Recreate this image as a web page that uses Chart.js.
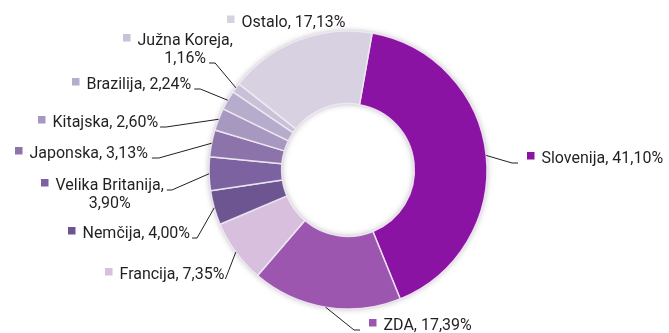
<!DOCTYPE html>
<html>
<head>
<meta charset="utf-8">
<script src="https://cdn.jsdelivr.net/npm/chart.js@4/dist/chart.umd.min.js"></script>
<style>
  html, body { margin: 0; padding: 0; background: #ffffff; }
  #wrap { width: 669px; height: 333px; position: relative; }
</style>
</head>
<body>
<div id="wrap"><canvas id="c" width="669" height="333"></canvas></div>
<script>
// Deleži po državah (v %)
const countries = ['Slovenija', 'ZDA', 'Francija', 'Nemčija', 'Velika Britanija',
                   'Japonska', 'Kitajska', 'Brazilija', 'Južna Koreja', 'Ostalo'];
const shares = [41.10, 17.39, 7.35, 4.00, 3.90, 3.13, 2.60, 2.24, 1.16, 17.13];
// labels that break onto a second line after the comma
const wrapAfterName = [false, false, false, false, true, false, false, false, true, false];

const sliceColors = ['#8a13a3', '#9c56b0', '#d7bfdd', '#6d5592', '#7c62a0',
                     '#8c74ab', '#a698bf', '#b6accb', '#c9c1d7', '#d8d1e1'];

// callout placement: offset of the marker square / first baseline from the ring centre,
// which text line the leader attaches to, and leader gaps
const calloutLayout = [
  { dx: 179,  dy: -7,     side: 'right', line: 0, gap: 9, knee: 6 },
  { dx: 21,   dy: 160,    side: 'right', line: 0, gap: 9, knee: 6 },
  { dx: -243, dy: 109,    side: 'left',  line: 0, gap: 1, knee: 0 },
  { dx: -280, dy: 68,     side: 'left',  line: 0, gap: 2, knee: 5 },
  { dx: -307, dy: 20,     side: 'left',  line: 0, gap: 3, knee: 5 },
  { dx: -333, dy: -12,    side: 'left',  line: 0, gap: 4, knee: 7 },
  { dx: -310, dy: -43,    side: 'left',  line: 0, gap: 2, knee: 6 },
  { dx: -276, dy: -81,    side: 'left',  line: 0, gap: 3, knee: 6 },
  { dx: -225, dy: -125,   side: 'left',  line: 1, gap: 3, knee: 6 },
  { dx: -121, dy: -143.5, side: 'none',  line: 0, gap: 0, knee: 0 }
];

const fmt = v => v.toFixed(2).replace('.', ',') + '%';
function labelText(i) {
  const name = countries[i], val = fmt(shares[i]);
  return wrapAfterName[i] ? [name + ',', val] : [name + ', ' + val];
}

const FONT = '17px Roboto';
const SQUEEZE = 0.94;          // slightly condensed lettering
const TEXT_COLOR = '#231f20';
const LINE_H = 18;

// soft shadow under the ring
const ringShadow = {
  id: 'ringShadow',
  beforeDatasetsDraw(chart) {
    const arc = chart.getDatasetMeta(0).data[0];
    if (!arc) return;
    const { x, y, outerRadius, innerRadius } = arc.getProps(['x', 'y', 'outerRadius', 'innerRadius'], true);
    const c = chart.ctx;
    c.save();
    c.shadowColor = 'rgba(50, 30, 60, 0.5)';
    c.shadowBlur = 6;
    c.fillStyle = '#d0c8d8';
    c.beginPath();
    c.arc(x, y, outerRadius - 1, 0, Math.PI * 2);
    c.arc(x, y, innerRadius + 1, 0, Math.PI * 2, true);
    c.fill();
    c.restore();
  }
};

function drawCondensed(c, text, x, y) {
  c.save();
  c.translate(x, y);
  c.scale(SQUEEZE, 1);
  c.fillText(text, 0, 0);
  c.restore();
}

// category labels with colour markers and leader lines
const callouts = {
  id: 'callouts',
  afterDatasetsDraw(chart) {
    const c = chart.ctx;
    const arcs = chart.getDatasetMeta(0).data;
    c.save();
    c.font = FONT;
    c.textBaseline = 'alphabetic';
    c.textAlign = 'left';
    arcs.forEach((arc, i) => {
      const p = arc.getProps(['x', 'y', 'startAngle', 'endAngle', 'outerRadius'], true);
      const L = calloutLayout[i];
      const lines = labelText(i);
      const sqX = p.x + L.dx, base = p.y + L.dy;
      const textX = sqX + 14.5;

      // marker
      c.fillStyle = sliceColors[i];
      c.fillRect(sqX, base - 11, 7.5, 7.5);

      // text
      c.fillStyle = TEXT_COLOR;
      const w0 = c.measureText(lines[0]).width * SQUEEZE;
      drawCondensed(c, lines[0], textX, base);
      const rights = [textX + w0];
      if (lines[1]) {
        const w1 = c.measureText(lines[1]).width * SQUEEZE;
        const x1 = textX + (w0 - w1) / 2;
        drawCondensed(c, lines[1], x1, base + LINE_H);
        rights.push(x1 + w1);
      }

      if (L.side === 'none') return;
      const mid = (p.startAngle + p.endAngle) / 2;
      const ax = p.x + Math.cos(mid) * p.outerRadius;
      const ay = p.y + Math.sin(mid) * p.outerRadius;
      const ly = base + L.line * LINE_H;
      let ex, kx;
      if (L.side === 'left') {
        ex = rights[L.line] + L.gap;
        kx = ex + L.knee;
      } else {
        ex = sqX - L.gap;
        kx = ex - L.knee;
      }
      c.strokeStyle = TEXT_COLOR;
      c.lineWidth = 1;
      c.beginPath();
      c.moveTo(ax, ay);
      c.lineTo(kx, ly);
      c.lineTo(ex, ly);
      c.stroke();
    });
    c.restore();
  }
};

new Chart(document.getElementById('c'), {
  type: 'doughnut',
  data: {
    labels: countries,
    datasets: [{
      data: shares,
      backgroundColor: sliceColors,
      borderColor: 'rgba(240, 234, 244, 0.9)',
      borderWidth: 1.5,
      hoverOffset: 0
    }]
  },
  options: {
    responsive: false,
    animation: false,
    rotation: 10,
    radius: 139,
    cutout: 66,
    layout: { padding: { left: 200, right: 173, top: 31, bottom: 24 } },
    plugins: {
      legend: { display: false },
      tooltip: { enabled: false }
    }
  },
  plugins: [ringShadow, callouts]
});
</script>
</body>
</html>
